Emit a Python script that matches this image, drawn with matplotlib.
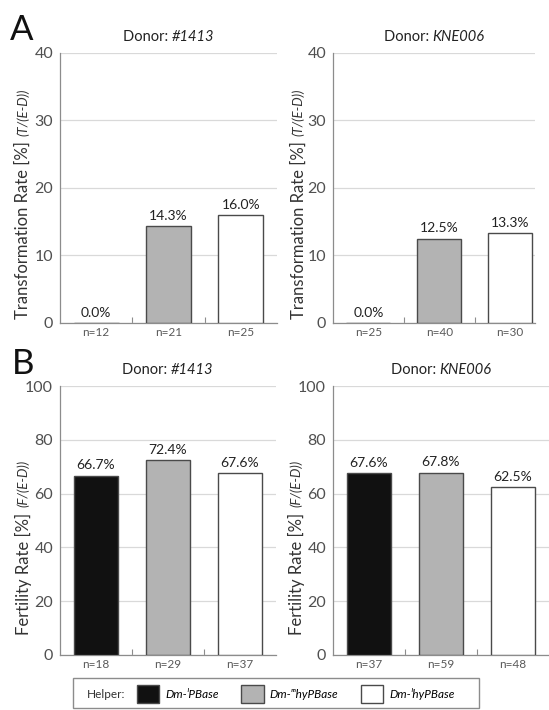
import matplotlib
matplotlib.use('agg')
import matplotlib.pyplot as plt
from matplotlib.patches import Patch, Rectangle
from matplotlib.offsetbox import TextArea, HPacker, AnchoredOffsetbox

helpers = ["Dm-ˡPBase", "Dm-ᵐhyPBase", "Dm-ˡhyPBase"]
bar_colors = ["#111111", "#b3b3b3", "#ffffff"]

# panel A: transformation rate
trans_1413 = [0.0, 14.3, 16.0]
trans_1413_n = [12, 21, 25]
trans_kne006 = [0.0, 12.5, 13.3]
trans_kne006_n = [25, 40, 30]

# panel B: fertility rate
fert_1413 = [66.7, 72.4, 67.6]
fert_1413_n = [18, 29, 37]
fert_kne006 = [67.6, 67.8, 62.5]
fert_kne006_n = [37, 59, 48]

plt.rcParams['font.family'] = ['Lato', 'DejaVu Sans']

W, H = 549, 710
fig = plt.figure(figsize=(W / 100, H / 100), dpi=100)


def px_axes(left, top, right, bottom):
    return fig.add_axes([left / W, (H - bottom) / H, (right - left) / W, (bottom - top) / H])


def draw_panel(ax, values, ns, donor, ymax, ystep, main_label, ital_label, label_start, xmax=2.5):
    x = range(len(values))
    draw_colors = bar_colors if values[0] > 0 else ["none"] + bar_colors[1:]
    bars = ax.bar(x, values, width=0.62, color=draw_colors, edgecolor="#4a4a4a",
                  linewidth=1.0, zorder=3)
    for b, v in zip(bars, values):
        ax.annotate(f"{v:.1f}%", (b.get_x() + b.get_width() / 2, v),
                    xytext=(0, 3), textcoords="offset points", ha="center", va="bottom",
                    fontsize=10, color="#222222")
    ax.set_xlim(-0.5, xmax)
    ax.set_ylim(0, ymax)
    ax.set_yticks(range(0, ymax + 1, ystep))
    ax.set_xticks(list(x))
    ax.set_xticklabels([f"n={n}" for n in ns])
    ax.set_xticks([0.5, 1.5], minor=True)
    ax.tick_params(axis="x", which="major", length=0, labelsize=8.5, labelcolor="#595959", pad=3)
    ax.tick_params(axis="x", which="minor", direction="in", length=4, color="#8c8c8c", width=0.8)
    ax.tick_params(axis="y", length=0, labelsize=11.5, labelcolor="#505050", pad=5)
    ax.grid(axis="y", color="#d9d9d9", linewidth=0.9, zorder=0)
    ax.set_axisbelow(True)
    for s in ["top", "right"]:
        ax.spines[s].set_visible(False)
    for s in ["left", "bottom"]:
        ax.spines[s].set_color("#8c8c8c")
        ax.spines[s].set_linewidth(0.9)

    # title with italic donor name
    title = HPacker(children=[
        TextArea("Donor: ", textprops=dict(fontsize=10.5, color="#222222")),
        TextArea(donor, textprops=dict(fontsize=10.5, color="#222222", style="italic")),
    ], pad=0, sep=0, align="baseline")
    ax.add_artist(AnchoredOffsetbox(loc="lower center", child=title, pad=0, borderpad=0,
                                    frameon=False, bbox_to_anchor=(0.5, 1.035),
                                    bbox_transform=ax.transAxes))

    main = ax.text(-0.17, label_start, main_label, rotation=90, transform=ax.transAxes,
                   ha="center", va="bottom", fontsize=12, color="#333333")
    ax.annotate(ital_label, xy=(0.5, 1.0), xycoords=main, xytext=(0, 4),
                textcoords="offset points", rotation=90, ha="center", va="bottom",
                fontsize=9.5, style="italic", color="#333333")


ax1 = px_axes(60, 53, 277, 323)
draw_panel(ax1, trans_1413, trans_1413_n, "#1413", 40, 10,
           "Transformation Rate [%]", "(T/(E-D))", 0.015)
ax2 = px_axes(333, 53, 535, 323)
draw_panel(ax2, trans_kne006, trans_kne006_n, "KNE006", 40, 10,
           "Transformation Rate [%]", "(T/(E-D))", 0.015, xmax=2.35)
ax3 = px_axes(60, 386, 276, 655)
draw_panel(ax3, fert_1413, fert_1413_n, "#1413", 100, 20,
           "Fertility Rate [%]", "(F/(E-D))", 0.074)
ax4 = px_axes(333, 386, 549, 655)
draw_panel(ax4, fert_kne006, fert_kne006_n, "KNE006", 100, 20,
           "Fertility Rate [%]", "(F/(E-D))", 0.074)

fig.text(10 / W, (H - 40) / H, "A", fontsize=25, ha="left", va="baseline", color="#111111")
fig.text(12 / W, (H - 374) / H, "B", fontsize=25, ha="left", va="baseline", color="#111111")

# legend box
fig.add_artist(Rectangle((73 / W, (H - 708) / H), (479 - 73) / W, (708 - 678) / H,
                         transform=fig.transFigure, fill=False, edgecolor="#8c8c8c", linewidth=1))
fig.text(87 / W, (H - 694) / H, "Helper:", fontsize=8.5, va="center", ha="left", color="#333333")
handles = [Patch(facecolor=c, edgecolor="#4a4a4a", linewidth=1.0) for c in bar_colors]
fig.legend(handles, helpers, loc="center left", bbox_to_anchor=(137 / W, (H - 694) / H),
           ncol=3, frameon=False, borderpad=0, borderaxespad=0, handlelength=1.9,
           handleheight=1.9, handletextpad=0.5, columnspacing=1.9,
           prop={"size": 8.5, "style": "italic"})

plt.savefig("out.png", dpi=100)
plt.close()
